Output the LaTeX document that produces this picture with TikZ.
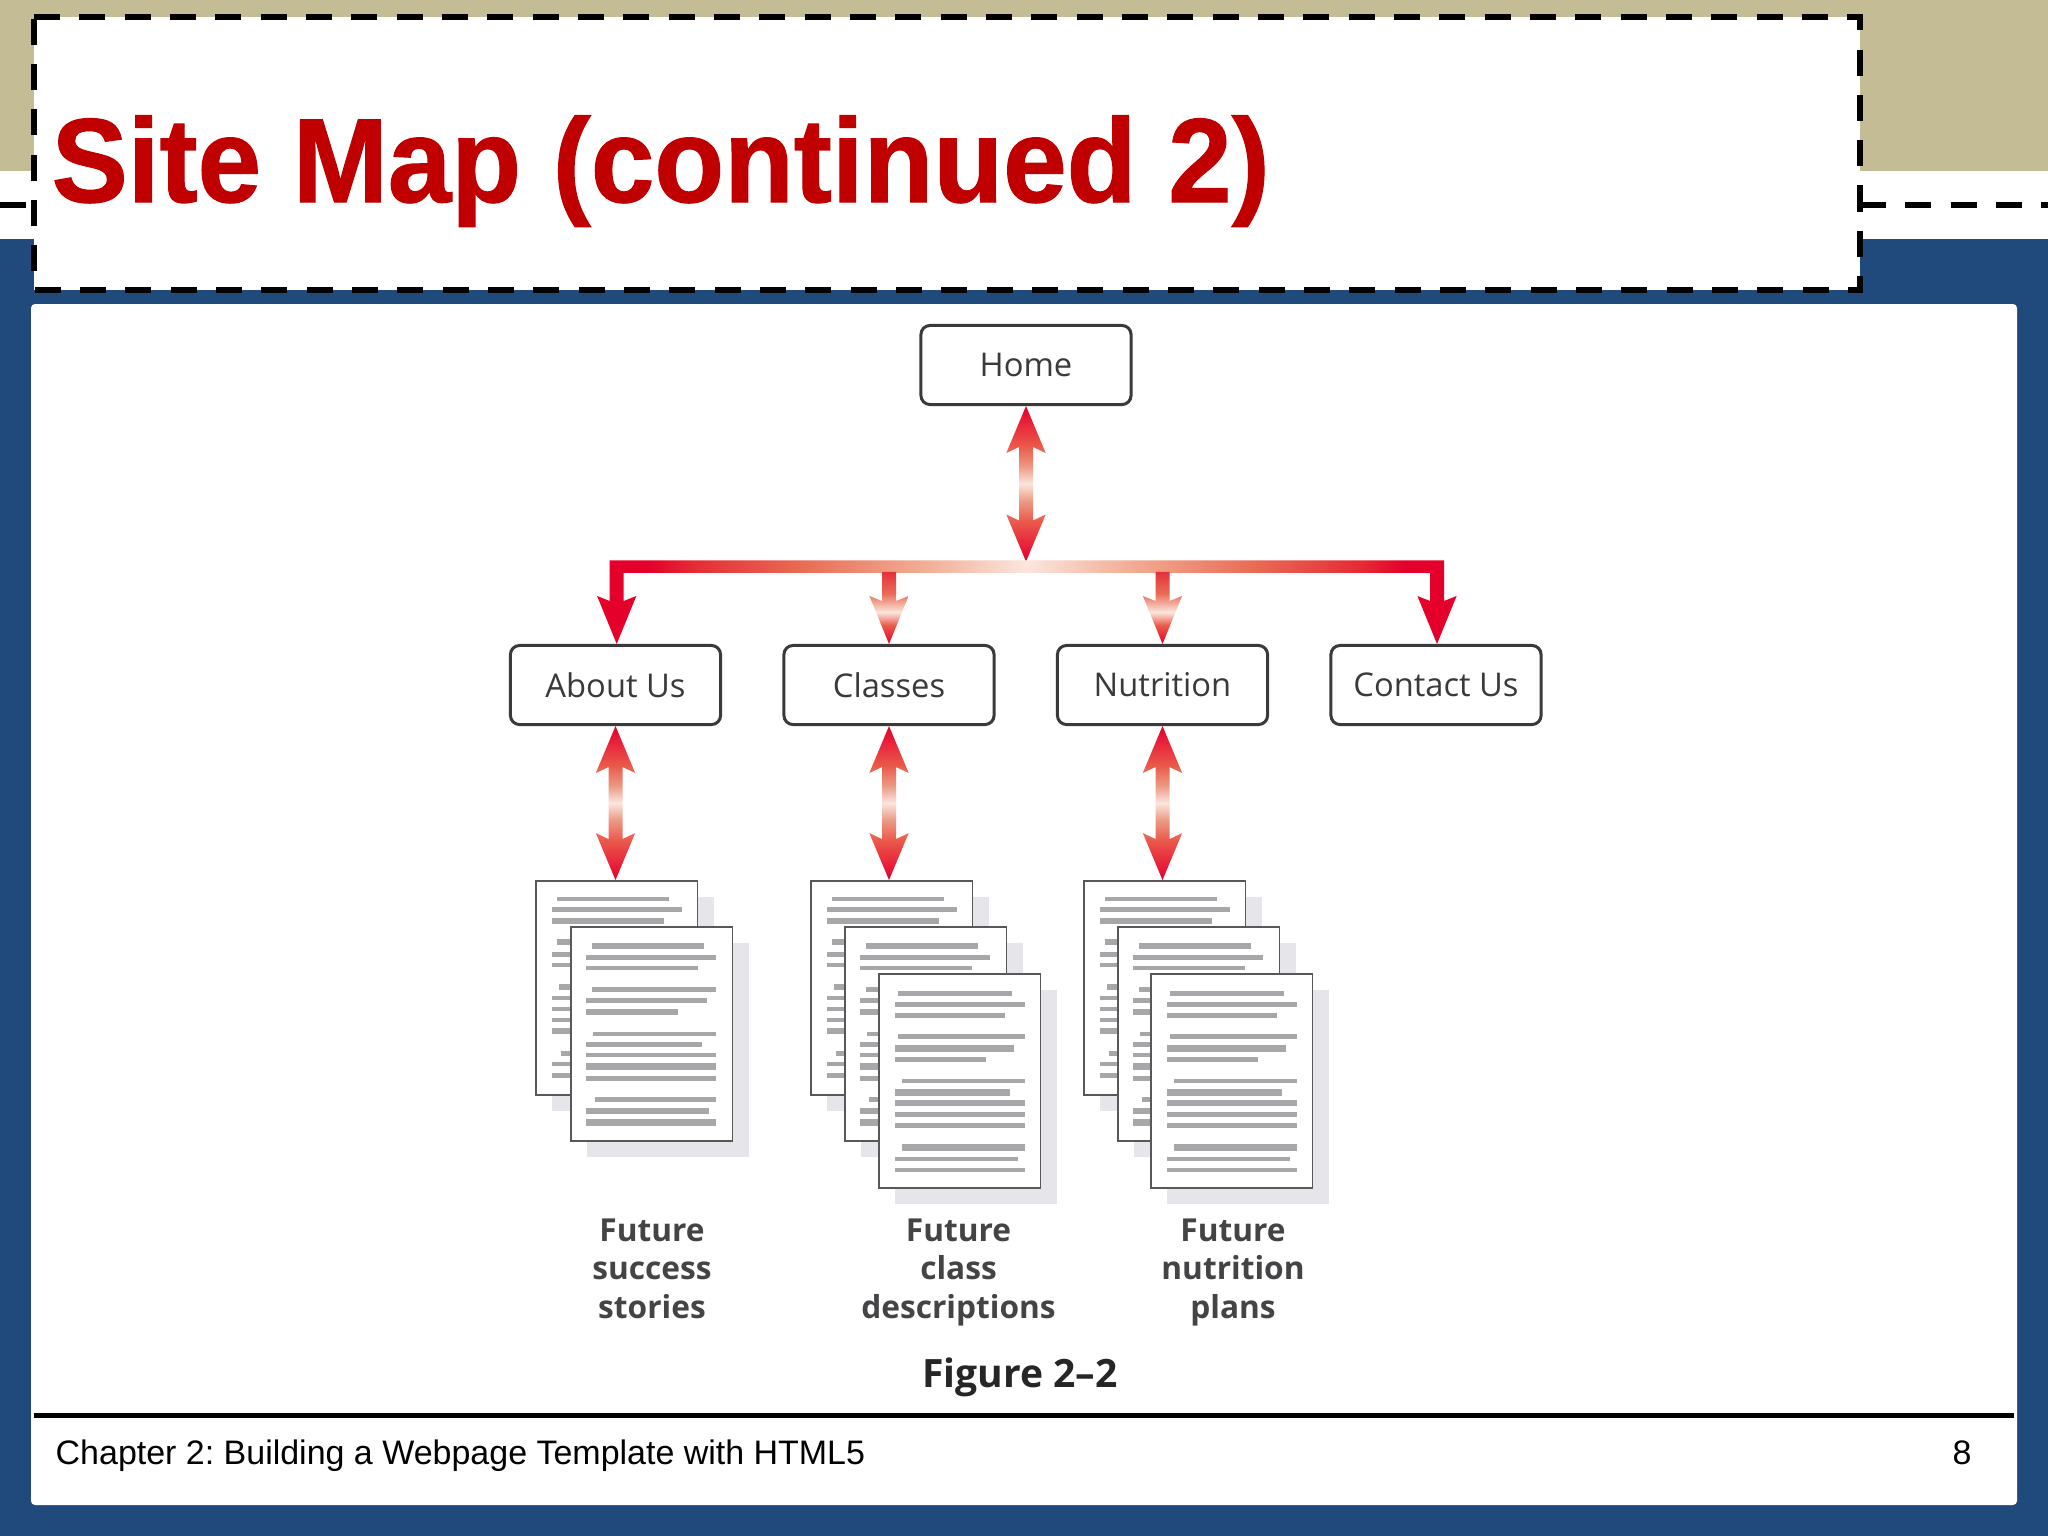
\documentclass[tikz,border=0pt]{standalone}
\usepackage{fontspec}
\setmainfont{Liberation Sans}
\newfontfamily\boxfont{Open Sans}
\newfontfamily\titlefont[FakeStretch=0.955,FakeBold=1]{Liberation Sans Bold}
\usetikzlibrary{calc}
\frenchspacing
\definecolor{cTan}{HTML}{C4BC94}
\definecolor{cBlue}{HTML}{204A7C}
\definecolor{cTitle}{HTML}{C00000}
\definecolor{cRed}{HTML}{E4002B}
\definecolor{cPale}{HTML}{FBE6DE}
\definecolor{cMidZ}{HTML}{E8203A}
\definecolor{cMidA}{HTML}{EA5A4B}
\definecolor{cMidB}{HTML}{EC9A85}
\definecolor{cTopB}{HTML}{E5303A}
\definecolor{cBarA}{HTML}{E52B35}
\definecolor{cBarB}{HTML}{E96C55}
\definecolor{cBarC}{HTML}{F2AE96}
\definecolor{cShadow}{HTML}{E6E5E9}
\definecolor{cLine}{HTML}{A7A6A8}
\definecolor{cEdge}{HTML}{3A3A3C}
\definecolor{cPage}{HTML}{58585A}
\definecolor{cLabel}{HTML}{444446}
\pgfdeclareverticalshading{dblshade}{100bp}{color(0bp)=(cRed); color(25bp)=(cRed); color(30bp)=(cMidZ); color(38bp)=(cMidA); color(44.5bp)=(cMidB); color(50bp)=(cPale); color(55.5bp)=(cMidB); color(62bp)=(cMidA); color(70bp)=(cMidZ); color(75bp)=(cRed); color(100bp)=(cRed)}
\pgfdeclareverticalshading{branchshade}{100bp}{color(0bp)=(cRed); color(25bp)=(cRed); color(38bp)=(cMidA); color(47bp)=(cPale); color(60bp)=(cBarB); color(75bp)=(cTopB); color(100bp)=(cTopB)}
\pgfdeclarehorizontalshading{combshade}{100bp}{color(0bp)=(cRed); color(28bp)=(cRed); color(30.6bp)=(cBarA); color(36.9bp)=(cBarB); color(44.1bp)=(cBarC); color(50bp)=(cPale); color(55.9bp)=(cBarC); color(63.1bp)=(cBarB); color(69.4bp)=(cBarA); color(72bp)=(cRed); color(100bp)=(cRed)}
\tikzset{
  sitebox/.style={draw=cEdge,line width=0.03cm,fill=white,rounded corners=0.09cm,minimum width=2.1cm,minimum height=0.79cm,inner sep=0pt,text=cEdge,font=\boxfont\fontsize{9.3}{11}\selectfont},
  pagebox/.style={draw=cPage,line width=0.018cm,fill=white,minimum width=1.615cm,minimum height=2.14cm,inner sep=0pt},
  pagelabel/.style={align=center,text=cLabel,inner sep=0pt,font=\boxfont\bfseries\fontsize{9}{11.05}\selectfont},
  dashedge/.style={draw=black,line width=0.06cm,dash pattern=on 7.4pt off 5.49pt},
  footer/.style={inner sep=0pt,text=black,font=\fontsize{9.66}{12}\selectfont},
}
\def\linesA{105/419/117/12,90/454/149/14,90/403/184/18,105/419/247/18,90/454/283/14,90/440/315/14,110/440/381/20,90/454/415/14,90/454/448/14,90/454/481/14,90/454/515/18,115/454/582/14,90/440/613/14,90/454/647/16}
\def\linesB{200/513/259/20,185/548/293/14,185/498/325/14,200/548/390/14,185/523/422/16,185/442/457/20,204/548/523/14,185/509/556/14,185/548/587/14,185/548/622/20,185/548/657/14,210/548/721/14,185/528/755/20,185/548/789/20}
\def\linesC{1057/1376/400/14,1047/1411/433/14,1047/1356/465/14,1057/1411/528/16,1047/1381/564/20,1047/1302/598/14,1067/1411/662/12,1047/1370/697/20,1047/1411/729/20,1047/1411/763/14,1047/1411/796/14,1067/1411/862/20,1047/1392/897/14,1047/1411/930/14}
\newcommand{\mypage}[6]{%
  \fill[cShadow] (#2+16,#3+16) rectangle ++(161.5,214);
  \node[pagebox] (#1) at (#2+80.75,#3+107) {};
  \begin{scope}[shift={(#2,#3)}]
    \begin{scope}[x=0.0035714cm,y=-0.0033333cm,shift={(-#5,-#6)}]
      \foreach \a/\b/\c/\d in #4 {\fill[cLine] (\a,{\c-\d/2}) rectangle (\b,{\c+\d/2});}
    \end{scope}
  \end{scope}}
\newcommand{\dblarrow}[2]{%
  \coordinate (t) at (#1);
  \coordinate (u) at (#1 |- #2);
  \shade[shading=dblshade] (t) -- ($(t)+(19.7,47)$) -- ($(t)+(7,41)$) -- ($(u)+(7,-41)$) -- ($(u)+(19.7,-47)$) -- (u) -- ($(u)+(-19.7,-47)$) -- ($(u)+(-7,-41)$) -- ($(t)+(-7,41)$) -- ($(t)+(-19.7,47)$) -- cycle;}
\newcommand{\brancharrow}[1]{%
  \coordinate (t) at (#1);
  \shade[shading=branchshade] (t) -- ($(t)+(19.6,-48)$) -- ($(t)+(7,-43)$) -- ($(t)+(7,-72)$) -- ($(t)+(-7,-72)$) -- ($(t)+(-7,-43)$) -- ($(t)+(-19.6,-48)$) -- cycle;}
\begin{document}
\begin{tikzpicture}[x=0.01cm,y=-0.01cm]
\useasboundingbox (0,0) rectangle (2048,1536);
% background
\fill[cBlue] (0,0) rectangle (2048,1536);
\fill[white] (0,171) rectangle (2048,239);
\fill[cTan] (0,0) rectangle (2048,171);
\fill[white,rounded corners=0.04cm] (31,304) rectangle (2017,1505);
% stubs of the dashed line
\draw[black,line width=0.06cm] (0,205) -- (26,205);
\draw[dashedge] (1860,205) -- (2048,205);
% title box
\fill[white] (34,17) rectangle (1860,290);
\draw[dashedge] (34,17) -- (1860,17) -- (1860,290) -- (34,290) -- cycle;
\node[anchor=base west,inner sep=0pt,text=cTitle,font=\titlefont\fontsize{34}{40}\selectfont] (title) at (51,202) {Site Map (continued 2)};
% boxes
\node[sitebox] (home) at (1026,365) {Home};
\node[sitebox] (about) at (615.5,685) {About Us};
\node[sitebox] (classes) at (889,685) {Classes};
\node[sitebox] (nutrition) at (1162.5,685) {Nutrition};
\node[sitebox] (contact) at (1436,685) {Contact Us};
% pages
\mypage{pa1}{536}{881}{\linesA}{46}{63}
\mypage{pb1}{571}{927}{\linesB}{142}{202}
\mypage{pa2}{811}{881}{\linesA}{46}{63}
\mypage{pb2}{845}{927}{\linesB}{142}{202}
\mypage{pc2}{879}{974}{\linesC}{1003}{341}
\mypage{pa3}{1084}{881}{\linesA}{46}{63}
\mypage{pb3}{1118}{927}{\linesB}{142}{202}
\mypage{pc3}{1151}{974}{\linesC}{1003}{341}
% connectors
\coordinate (hub) at (1026,561.5);
\dblarrow{home.south}{hub}
\dblarrow{about.south}{pa1.north}
\dblarrow{classes.south}{pa2.north}
\dblarrow{nutrition.south}{pa3.north}
\coordinate (tl) at ($(about.north)+(1.2,0)$);
\coordinate (tr) at ($(contact.north)+(1,0)$);
\shade[shading=combshade] (tl) -- ($(tl)+(19.6,-48)$) -- ($(tl)+(7,-43)$) -- ($(tl)+(7,-71)$) -- ($(tr)+(-7,-71)$) -- ($(tr)+(-7,-43)$) -- ($(tr)+(-19.6,-48)$) -- (tr) -- ($(tr)+(19.6,-48)$) -- ($(tr)+(7,-43)$) -- ($(tr)+(7,-83.6)$) -- ($(tl)+(-7,-83.6)$) -- ($(tl)+(-7,-43)$) -- ($(tl)+(-19.6,-48)$) -- cycle;
\brancharrow{classes.north}
\brancharrow{nutrition.north}
% labels
\node[pagelabel] (l1) at (652,1274.5) {Future\\success\\stories\strut};
\node[pagelabel] (l2) at (958.5,1274.5) {Future\\class\\descriptions\strut};
\node[pagelabel] (l3) at (1233,1274.5) {Future\\nutrition\\plans\strut};
\node[text=black!85,inner sep=0pt,font=\boxfont\bfseries\fontsize{11.1}{12}\selectfont] (fig) at (1020,1377) {Figure 2–2};
% footer
\draw[black,line width=0.05cm] (34,1415.5) -- (2014,1415.5);
\node[footer,anchor=base west] (foot) at (55,1464) {Chapter 2: Building a Webpage Template with HTML5};
\node[footer,anchor=base] (num) at (1962,1464) {8};
\end{tikzpicture}
\end{document}
